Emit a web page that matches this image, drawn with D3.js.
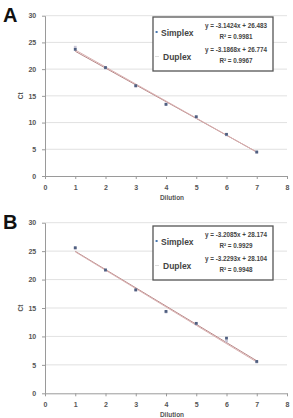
<!DOCTYPE html>
<html lang="en">
<head>
<meta charset="UTF-8">
<script src="https://d3js.org/d3.v7.min.js"></script>
<style>
  body { margin: 0; background: #fff; }
  svg { display: block; }
</style>
</head>
<body>
<div id="container"></div>
<script>
// data
var dilution = [1, 2, 3, 4, 5, 6, 7];
var simplexA = [23.7, 20.3, 16.9, 13.4, 11.1, 7.8, 4.5];
var duplexA  = [24.1, 20.2, 16.8, 13.5, 11.0, 7.7, 4.4];
var simplexB = [25.6, 21.7, 18.2, 14.4, 12.3, 9.7, 5.6];
var duplexB  = [25.5, 21.6, 18.1, 14.3, 12.2, 9.2, 5.5];
var fitA = [{slope: -3.1424, icpt: 26.483, r2: "0.9981"}, {slope: -3.1868, icpt: 26.774, r2: "0.9967"}];
var fitB = [{slope: -3.2085, icpt: 28.174, r2: "0.9929"}, {slope: -3.2293, icpt: 28.104, r2: "0.9948"}];
var xTicks = [0, 1, 2, 3, 4, 5, 6, 7, 8];
var yTicks = [0, 5, 10, 15, 20, 25, 30];

var width = 293, height = 418;
var svg = d3.select("#container").append("svg")
    .attr("width", width).attr("height", height)
    .attr("font-family", "'Liberation Sans', Arial, sans-serif");

function panel(letter, top, bottom, simplex, duplex, fits, legendTop) {
    var x = d3.scaleLinear().domain([0, 8]).range([45, 287]);
    var y = d3.scaleLinear().domain([0, 30]).range([bottom, top]);
    var g = svg.append("g");

    // grid
    g.append("g").selectAll("line").data(yTicks.slice(1)).join("line")
        .attr("x1", x(0)).attr("x2", x(8))
        .attr("y1", d => y(d)).attr("y2", d => y(d))
        .attr("stroke", "#d9d9d9").attr("stroke-width", 0.8);

    var xa = g.append("g").attr("transform", `translate(0,${y(0)})`)
        .call(d3.axisBottom(x).tickValues(xTicks).tickSize(3).tickSizeOuter(0));
    var ya = g.append("g").attr("transform", `translate(${x(0)},0)`)
        .call(d3.axisLeft(y).tickValues(yTicks).tickSize(3).tickSizeOuter(0));
    [xa, ya].forEach(a => {
        a.selectAll("path, line").attr("stroke", "#9a9a9a");
        a.selectAll("text").attr("fill", "#555").attr("font-size", 7).attr("font-weight", "bold");
    });
    xa.selectAll("text").attr("dy", "1.1em");
    ya.selectAll("text").attr("dx", "-0.4em");

    g.append("text").attr("x", 3).attr("y", top + 6)
        .attr("font-size", 20).attr("font-weight", "bold").attr("fill", "#111")
        .text(letter);

    g.append("text").attr("transform", `translate(23,${(top + bottom) / 2}) rotate(-90)`)
        .attr("text-anchor", "middle").attr("font-size", 6.5).attr("font-weight", "bold")
        .attr("fill", "#555").text("Ct");
    g.append("text").attr("x", 172).attr("y", bottom + 24)
        .attr("text-anchor", "middle").attr("font-size", 6.5).attr("font-weight", "bold")
        .attr("fill", "#555").text("Dilution");

    // trend lines
    fits.forEach((f, i) => {
        g.append("line")
            .attr("x1", x(1)).attr("y1", y(f.slope * 1 + f.icpt))
            .attr("x2", x(7)).attr("y2", y(f.slope * 7 + f.icpt))
            .attr("stroke", i ? "#d8b0b0" : "#b98888").attr("stroke-width", 1);
    });

    // points
    g.append("g").selectAll("rect").data(duplex).join("rect")
        .attr("x", (d, i) => x(dilution[i]) - 1.4).attr("y", d => y(d) - 1.4)
        .attr("width", 2.8).attr("height", 2.8).attr("fill", "#c9c6d6");
    g.append("g").selectAll("rect").data(simplex).join("rect")
        .attr("x", (d, i) => x(dilution[i]) - 1.4).attr("y", d => y(d) - 1.4)
        .attr("width", 2.8).attr("height", 2.8).attr("fill", "#4f5f80");

    // legend
    var lt = legendTop;
    g.append("rect").attr("x", 153).attr("y", lt).attr("width", 120).attr("height", 54)
        .attr("fill", "#fff").attr("stroke", "#555").attr("stroke-width", 1.3);
    g.append("rect").attr("x", 155.6).attr("y", lt + 14).attr("width", 2).attr("height", 2).attr("fill", "#4a78b0");
    g.append("line").attr("x1", 155).attr("x2", 159).attr("y1", lt + 39.5).attr("y2", lt + 39.5)
        .attr("stroke", "#ddd").attr("stroke-width", 1);
    var labels = ["Simplex", "Duplex"];
    labels.forEach((s, i) => {
        var o = i * 24;
        g.append("text").attr("x", i ? 163 : 161).attr("y", lt + 19 + o).attr("font-size", 8.5)
            .attr("font-weight", "bold").attr("fill", "#444").text(s);
        var f = fits[i];
        g.append("text").attr("x", 236).attr("y", lt + 11 + o).attr("text-anchor", "middle")
            .attr("font-size", 6.3).attr("font-weight", "bold").attr("fill", "#444")
            .text(`y = ${f.slope.toFixed(4)}x + ${f.icpt.toFixed(3)}`);
        g.append("text").attr("x", 236).attr("y", lt + 22 + o).attr("text-anchor", "middle")
            .attr("font-size", 6.3).attr("font-weight", "bold").attr("fill", "#444")
            .text(`R² = ${f.r2}`);
    });
}

panel("A", 15.7, 176, simplexA, duplexA, fitA, 17);
panel("B", 222.7, 393.3, simplexB, duplexB, fitB, 226);
</script>
</body>
</html>
